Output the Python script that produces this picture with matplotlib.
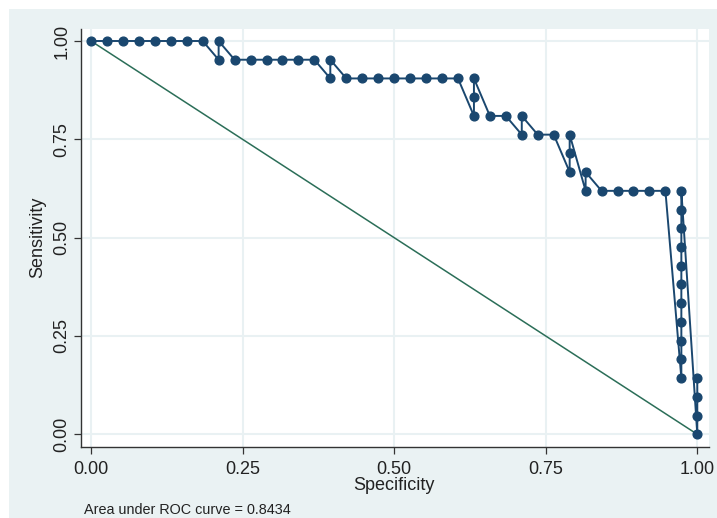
import matplotlib
matplotlib.use("Agg")
import matplotlib.pyplot as plt
from matplotlib.patches import Rectangle

# Points in drawing order (specificity, sensitivity)
specificity = [0.0, 0.0263, 0.0526, 0.0789, 0.1053, 0.1316, 0.1579, 0.1842,
               0.2105, 0.2105,
               0.2368, 0.2632, 0.2895, 0.3158, 0.3421, 0.3684,
               0.3947, 0.3947,
               0.4211, 0.4474, 0.4737, 0.5, 0.5263, 0.5526, 0.5789, 0.6053,
               0.6316, 0.6316, 0.6316,
               0.6579, 0.6842,
               0.7105, 0.7105,
               0.7368, 0.7632,
               0.7895, 0.7895, 0.7895,
               0.8158, 0.8158,
               0.8421, 0.8684, 0.8947, 0.9211, 0.9474,
               0.9737, 0.9737, 0.9737, 0.9737, 0.9737, 0.9737, 0.9737, 0.9737,
               0.9737, 0.9737, 0.9737,
               1.0, 1.0, 1.0, 1.0]
sensitivity = [1.0, 1.0, 1.0, 1.0, 1.0, 1.0, 1.0, 1.0,
               0.9524, 1.0,
               0.9524, 0.9524, 0.9524, 0.9524, 0.9524, 0.9524,
               0.9048, 0.9524,
               0.9048, 0.9048, 0.9048, 0.9048, 0.9048, 0.9048, 0.9048, 0.9048,
               0.8095, 0.8571, 0.9048,
               0.8095, 0.8095,
               0.7619, 0.8095,
               0.7619, 0.7619,
               0.6667, 0.7143, 0.7619,
               0.6190, 0.6667,
               0.6190, 0.6190, 0.6190, 0.6190, 0.6190,
               0.1429, 0.1905, 0.2381, 0.2857, 0.3333, 0.3810, 0.4286, 0.4762,
               0.5238, 0.5714, 0.6190,
               0.0, 0.0476, 0.0952, 0.1429]
ref_x = [0.0, 1.0]
ref_y = [1.0, 0.0]
tick_values = [0.0, 0.25, 0.5, 0.75, 1.0]
tick_labels = ["0.00", "0.25", "0.50", "0.75", "1.00"]
auc_text = "Area under ROC curve = 0.8434"

plt.rcParams['font.family'] = ['Liberation Sans', 'DejaVu Sans']

W, H = 717, 518
fig = plt.figure(figsize=(W / 100, H / 100), dpi=100)
fig.patch.set_facecolor("white")
bg = "#eaf2f3"
fig.patches.append(Rectangle((9 / W, 0), 1 - 9 / W, 1 - 9 / H, transform=fig.transFigure,
                             facecolor=bg, edgecolor="none", zorder=-10))

left, right, top, bottom = 80.7, 709.3, 29, 446.7
ax = fig.add_axes([left / W, 1 - bottom / H, (right - left) / W, (bottom - top) / H])
ax.set_facecolor("white")

ax.set_xlim(-0.017, 1.0198)
ax.set_ylim(-0.0315, 1.0305)

navy = "#1a476f"
ax.plot(specificity, sensitivity, color=navy, lw=1.4, marker="o", markersize=6.3,
        markerfacecolor=navy, markeredgecolor=navy, zorder=3, clip_on=False)
ax.plot(ref_x, ref_y, color="#2b6e58", lw=1.1, zorder=2)

ax.set_xticks(tick_values)
ax.set_xticklabels(tick_labels)
ax.set_yticks(tick_values)
ax.set_yticklabels(tick_labels, rotation=90, va="center")

ax.grid(True, color="#e9f1f3", lw=1.5, zorder=0)
ax.set_axisbelow(True)

for s in ["top", "right"]:
    ax.spines[s].set_visible(False)
for s in ["left", "bottom"]:
    ax.spines[s].set_color("#333333")
    ax.spines[s].set_linewidth(1.0)

ax.tick_params(axis="x", length=5, width=0.9, color="#333333", pad=5.5,
               labelsize=13, labelcolor="#222222")
ax.tick_params(axis="y", length=5, width=0.9, color="#333333", pad=2.5,
               labelsize=13, labelcolor="#222222")

ax.set_xlabel("Specificity", fontsize=13, color="#222222")
ax.set_ylabel("Sensitivity", fontsize=13, color="#222222")
ax.xaxis.set_label_coords((394 - left) / (right - left), (bottom - 477.5) / (bottom - top))
ax.yaxis.set_label_coords((46 - left) / (right - left), (bottom - 237.5) / (bottom - top))

fig.text(84 / W, 1 - 510 / H, auc_text, fontsize=10.4, color="#222222",
         ha="left", va="center")

fig.savefig("out.png", dpi=100, facecolor=fig.get_facecolor())
